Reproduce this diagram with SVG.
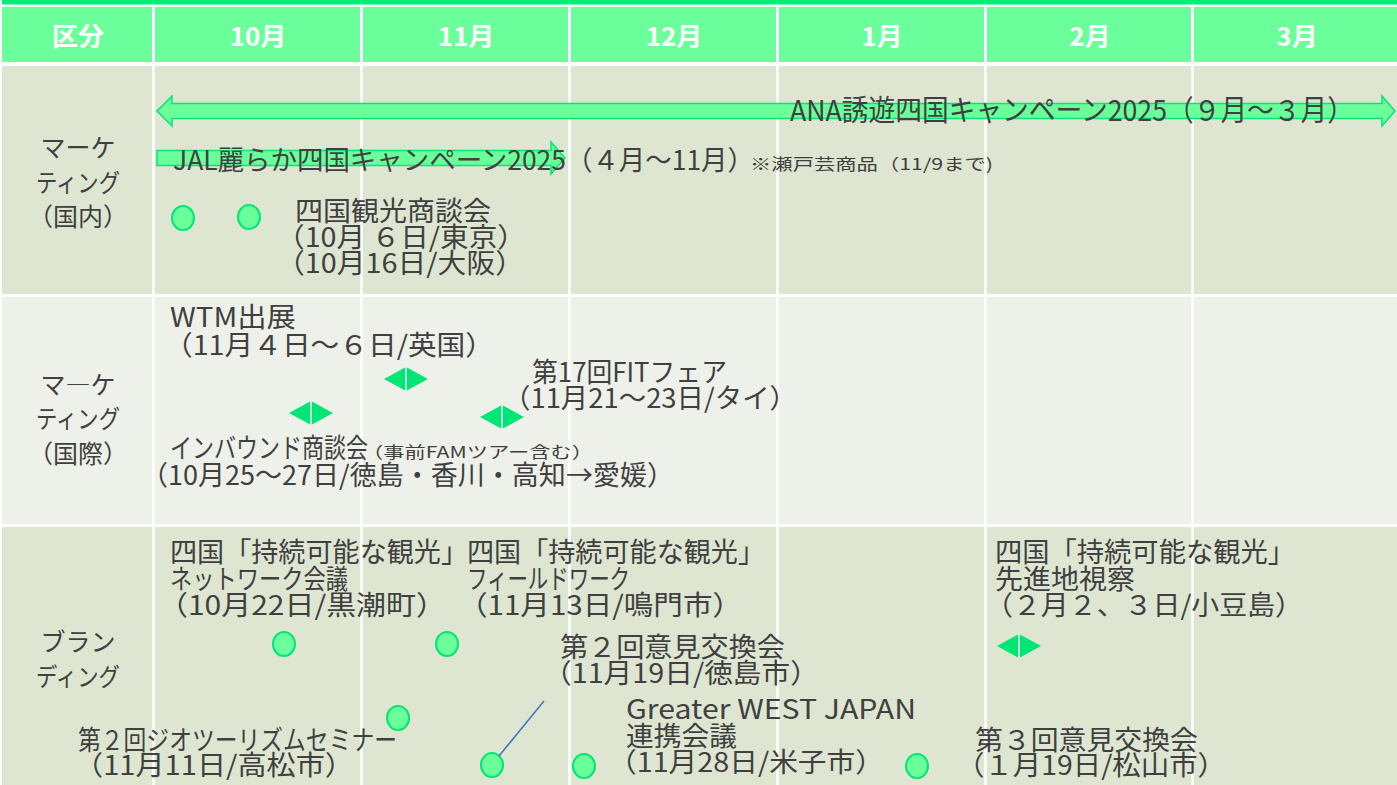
<svg xmlns="http://www.w3.org/2000/svg" width="1397" height="785" viewBox="0 0 1397 785">
<defs>
<style>
text{font-family:"Noto Sans CJK JP","Noto Sans",sans-serif;fill:#404040;}
.t{font-size:27px;}
.s{font-size:16px;}
.lab{font-size:25px;text-anchor:middle;}
.hd{font-size:26px;font-weight:bold;fill:#ffffff;text-anchor:middle;}
.hc{fill:#6BFF9B;}
.dot{fill:#6BFF9B;stroke:#00E676;stroke-width:2;}
.dia{fill:#00E676;}
.dl{stroke:#ffffff;stroke-width:1.5;}
.arr{fill:#6BFF9B;stroke:#00E676;stroke-width:1.5;}
.vl{stroke:#ffffff;stroke-width:2.5;}
</style>
</defs>
<rect x="0" y="0" width="1397" height="785" fill="#ffffff"/>
<g id="header">
<rect x="2" y="0" width="1395" height="4.5" fill="#00EE77"/>
<rect class="hc" x="2" y="7" width="150" height="55"/>
<rect class="hc" x="155" y="7" width="205" height="55"/>
<rect class="hc" x="363" y="7" width="205" height="55"/>
<rect class="hc" x="571" y="7" width="205" height="55"/>
<rect class="hc" x="779" y="7" width="205" height="55"/>
<rect class="hc" x="987" y="7" width="204" height="55"/>
<rect class="hc" x="1194" y="7" width="203" height="55"/>
<text class="hd" x="78" y="46">区分</text>
<text class="hd" x="258" y="46">10月</text>
<text class="hd" x="466" y="46">11月</text>
<text class="hd" x="674" y="46">12月</text>
<text class="hd" x="882" y="46">1月</text>
<text class="hd" x="1090" y="46">2月</text>
<text class="hd" x="1297" y="46">3月</text>
</g>
<g id="rows">
<rect x="2" y="66" width="1395" height="228" fill="#DEE6D2"/>
<rect x="2" y="297" width="1395" height="227" fill="#EEF1EA"/>
<rect x="2" y="527" width="1395" height="258" fill="#DEE6D2"/>
<line class="vl" x1="153.5" y1="64" x2="153.5" y2="785"/>
<line class="vl" x1="361.5" y1="64" x2="361.5" y2="785"/>
<line class="vl" x1="569.5" y1="64" x2="569.5" y2="785"/>
<line class="vl" x1="777.5" y1="64" x2="777.5" y2="785"/>
<line class="vl" x1="985.5" y1="64" x2="985.5" y2="785"/>
<line class="vl" x1="1192.5" y1="64" x2="1192.5" y2="785"/>
<text class="lab" x="78" y="157">マーケ</text>
<text class="lab" x="78" y="192" textLength="84" lengthAdjust="spacingAndGlyphs">ティング</text>
<text class="lab" x="78" y="226">（国内）</text>
<text class="lab" x="78" y="394">マ―ケ</text>
<text class="lab" x="78" y="428" textLength="84" lengthAdjust="spacingAndGlyphs">ティング</text>
<text class="lab" x="78" y="463">（国際）</text>
<text class="lab" x="78" y="651">ブラン</text>
<text class="lab" x="78" y="686" textLength="84" lengthAdjust="spacingAndGlyphs">ディング</text>
</g>
<g id="ana-campaign">
<path class="arr" d="M157,111 L172,96 L172,103.5 L1382,103.5 L1382,96 L1395,111 L1382,126 L1382,118.5 L172,118.5 L172,126 Z"/>
<text x="790" y="121" font-size="29" textLength="564" lengthAdjust="spacingAndGlyphs">ANA誘遊四国キャンペーン2025（９月～３月）</text>
</g>
<g id="jal-campaign">
<path class="arr" d="M157,150.5 L551,150.5 L551,142 L565,158 L551,174 L551,165.5 L157,165.5 Z"/>
<text class="t" x="173" y="170" textLength="581" lengthAdjust="spacingAndGlyphs">JAL麗らか四国キャンペーン2025（４月～11月）</text>
<text class="s" x="750" y="170" textLength="243" lengthAdjust="spacingAndGlyphs">※瀬戸芸商品（11/9まで)</text>
</g>
<g id="shikoku-shodankai">
<ellipse class="dot" cx="183" cy="218" rx="11" ry="12"/>
<ellipse class="dot" cx="249" cy="217" rx="11" ry="12"/>
<text class="t" x="295" y="221" textLength="196" lengthAdjust="spacingAndGlyphs">四国観光商談会</text>
<text class="t" x="276" y="247" textLength="250" lengthAdjust="spacingAndGlyphs">（10月 ６日/東京）</text>
<text class="t" x="276" y="273" textLength="248" lengthAdjust="spacingAndGlyphs">（10月16日/大阪）</text>
</g>
<g id="wtm">
<polygon class="dia" points="384,379 406,367 428,379 406,391"/>
<line class="dl" x1="406" y1="367" x2="406" y2="391"/>
<text class="t" x="170" y="327" textLength="126" lengthAdjust="spacingAndGlyphs">WTM出展</text>
<text class="t" x="164" y="355" textLength="330" lengthAdjust="spacingAndGlyphs">（11月４日～６日/英国）</text>
</g>
<g id="fit-fair">
<polygon class="dia" points="480,417 502,405 524,417 502,429"/>
<line class="dl" x1="502" y1="405" x2="502" y2="429"/>
<text class="t" x="532" y="382" textLength="195" lengthAdjust="spacingAndGlyphs">第17回FITフェア</text>
<text class="t" x="503" y="408" textLength="294" lengthAdjust="spacingAndGlyphs">（11月21～23日/タイ）</text>
</g>
<g id="inbound">
<polygon class="dia" points="289,413 311,401 333,413 311,425"/>
<line class="dl" x1="311" y1="401" x2="311" y2="425"/>
<text class="t" x="170" y="458" textLength="198" lengthAdjust="spacingAndGlyphs">インバウンド商談会</text>
<text class="s" x="362" y="458" textLength="231" lengthAdjust="spacingAndGlyphs">（事前FAMツアー含む）</text>
<text class="t" x="141" y="485" textLength="533" lengthAdjust="spacingAndGlyphs">（10月25～27日/徳島・香川・高知→愛媛）</text>
</g>
<g id="network-kaigi">
<ellipse class="dot" cx="284" cy="644" rx="11" ry="12"/>
<text class="t" x="170" y="562" textLength="298" lengthAdjust="spacingAndGlyphs">四国「持続可能な観光」</text>
<text class="t" x="170" y="589" textLength="178" lengthAdjust="spacingAndGlyphs">ネットワーク会議</text>
<text class="t" x="158" y="615" textLength="288" lengthAdjust="spacingAndGlyphs">（10月22日/黒潮町）</text>
</g>
<g id="fieldwork">
<ellipse class="dot" cx="447" cy="644" rx="11" ry="12"/>
<text class="t" x="467" y="562" textLength="298" lengthAdjust="spacingAndGlyphs">四国「持続可能な観光」</text>
<text class="t" x="467" y="589" textLength="163" lengthAdjust="spacingAndGlyphs">フィールドワーク</text>
<text class="t" x="458" y="615" textLength="284" lengthAdjust="spacingAndGlyphs">（11月13日/鳴門市）</text>
</g>
<g id="iken-2">
<ellipse class="dot" cx="492" cy="765" rx="11" ry="12"/>
<text class="t" x="560" y="657" textLength="225" lengthAdjust="spacingAndGlyphs">第２回意見交換会</text>
<text class="t" x="543" y="683" textLength="276" lengthAdjust="spacingAndGlyphs">（11月19日/徳島市）</text>
</g>
<g id="geo-seminar">
<ellipse class="dot" cx="398" cy="718" rx="11" ry="12"/>
<text class="t" x="78" y="750" textLength="319" lengthAdjust="spacingAndGlyphs">第２回ジオツーリズムセミナー</text>
<text class="t" x="74" y="775" textLength="280" lengthAdjust="spacingAndGlyphs">（11月11日/高松市）</text>
</g>
<g id="greater-west-japan">
<ellipse class="dot" cx="584" cy="766" rx="11" ry="12"/>
<text class="t" x="626" y="719" textLength="290" lengthAdjust="spacingAndGlyphs">Greater WEST JAPAN</text>
<text class="t" x="626" y="746" textLength="111" lengthAdjust="spacingAndGlyphs">連携会議</text>
<text class="t" x="608" y="772" textLength="276" lengthAdjust="spacingAndGlyphs">（11月28日/米子市）</text>
</g>
<g id="iken-3">
<ellipse class="dot" cx="917" cy="766" rx="11" ry="12"/>
<text class="t" x="975" y="750" textLength="223" lengthAdjust="spacingAndGlyphs">第３回意見交換会</text>
<text class="t" x="956" y="775" textLength="270" lengthAdjust="spacingAndGlyphs">（１月19日/松山市）</text>
</g>
<g id="senshinchi">
<polygon class="dia" points="997,646 1019,634 1041,646 1019,658"/>
<line class="dl" x1="1019" y1="634" x2="1019" y2="658"/>
<text class="t" x="995" y="562" textLength="300" lengthAdjust="spacingAndGlyphs">四国「持続可能な観光」</text>
<text class="t" x="995" y="589" textLength="140" lengthAdjust="spacingAndGlyphs">先進地視察</text>
<text class="t" x="985" y="615" textLength="318" lengthAdjust="spacingAndGlyphs">（２月２、３日/小豆島）</text>
</g>
<g id="connectors">
<line x1="544" y1="701" x2="499" y2="756" stroke="#4472C4" stroke-width="1.5"/>
</g>
</svg>
